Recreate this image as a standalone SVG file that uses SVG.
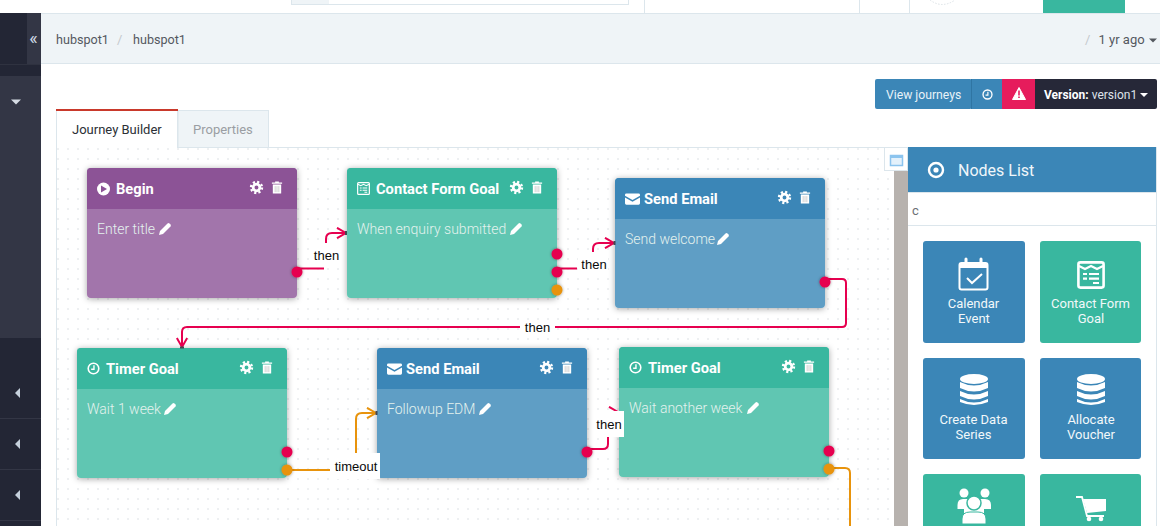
<svg xmlns="http://www.w3.org/2000/svg" width="1160" height="526" viewBox="0 0 1160 526">
<style>
text{font-family:Roboto,"Liberation Sans",sans-serif}
.hd{font-size:14.700px;font-weight:700;fill:#fff}
.sub{font-size:14px;font-weight:300;fill:#e4f2ee}
.lbl{font-size:13px;fill:#0a0a0a;text-anchor:middle;font-family:"Liberation Sans",Arial,sans-serif}
.tile{font-size:13px;fill:#f2f8fa;text-anchor:middle}
.crumb{font-size:12.600px;fill:#54585f}
.pk{fill:none;stroke:#e6004f;stroke-width:2}
.or{fill:none;stroke:#e8930c;stroke-width:2}
.tip{fill:#45464f}
.sh{filter:url(#shadow)}
.pd{fill:#e6004f;filter:url(#pshadow)}
.po{fill:#e8930c;filter:url(#pshadow)}
.ic{fill:#fff}
.bl{fill:#3b86b7}.gr{fill:#39b79f}.pu{fill:#8c5396}
.bl2{fill:#5f9ec5}.gr2{fill:#61c6b2}.pu2{fill:#a274ab}
.tri{fill:#c5d0dc}
</style>
<defs>
<pattern id="dots" width="10" height="10" patternUnits="userSpaceOnUse" x="7" y="8"><rect x="0" y="0" width="2" height="2" fill="#eef0f2"/></pattern>
<filter id="shadow" x="-10%" y="-10%" width="120%" height="125%"><feDropShadow dx="0" dy="1" stdDeviation="3" flood-color="#000" flood-opacity=".35"/></filter>
<filter id="pshadow" x="-50%" y="-50%" width="200%" height="200%"><feDropShadow dx="0" dy="0" stdDeviation="1.500" flood-color="#000" flood-opacity=".4"/></filter>
<marker id="ap" viewBox="0 0 11 12" refX="10" refY="6" markerWidth="11" markerHeight="12" markerUnits="userSpaceOnUse" orient="auto"><path d="M1 .8L10 6L1 11.200" fill="none" stroke="#e6004f" stroke-width="2"/></marker>
<marker id="ao" viewBox="0 0 11 12" refX="10" refY="6" markerWidth="11" markerHeight="12" markerUnits="userSpaceOnUse" orient="auto"><path d="M1 .8L10 6L1 11.200" fill="none" stroke="#e8930c" stroke-width="2"/></marker>
<symbol id="gear" viewBox="0 0 14 14" overflow="visible"><circle cx="7" cy="7" r="3.600" fill="none" stroke="#fff" stroke-width="3"/><circle cx="7" cy="7" r="5.900" fill="none" stroke="#fff" stroke-width="2.600" stroke-dasharray="2.300 2.330"/></symbol>
<symbol id="trash" viewBox="0 0 12 14" overflow="visible"><path d="M4 1.500V.5H8V1.500H11.500V3H.5V1.500ZM1.500 3.800H10.500V13.500H1.500Z" fill="#fff"/><path d="M4 5.500V12M6 5.500V12M8 5.500V12" stroke="#000" stroke-opacity=".2" stroke-width="1"/></symbol>
<symbol id="pen" viewBox="0 0 12 12" overflow="visible"><path d="M0 12L1 8L8.500 .5Q9.500 -.3 10.500 .5L11.500 1.500Q12.300 2.500 11.500 3.500L4 11Z" fill="#fff"/></symbol>
<symbol id="env" viewBox="0 0 16 12" overflow="visible"><path d="M0 1.500Q0 0 1.500 0H14.500Q16 0 16 1.500V2.500L8 7L0 2.500ZM0 4.300L8 8.800L16 4.300V10.500Q16 12 14.500 12H1.500Q0 12 0 10.500Z" fill="#fff"/></symbol>
<symbol id="clock" viewBox="0 0 14 14" overflow="visible"><circle cx="7" cy="7" r="5.700" fill="none" stroke="#fff" stroke-width="1.700"/><path d="M7.500 3.500V7.800H4.500" fill="none" stroke="#fff" stroke-width="1.500"/></symbol>
<symbol id="form" viewBox="0 0 14 14" overflow="visible"><rect x=".7" y=".7" width="12.600" height="12.600" rx="1" fill="none" stroke="#fff" stroke-width="1.300"/><path d="M1 2.500L4 4L7 2.500L10 4L13 2.500M3 6.500H5M6 6.500H11M3 8.800H5M6 8.800H11M8 11H11" fill="none" stroke="#fff" stroke-width="1.100"/></symbol>
<symbol id="db" viewBox="0 0 28 32" overflow="visible"><ellipse cx="14" cy="5" rx="14" ry="5" fill="#fff"/><path d="M0 8Q14 15 28 8V14Q14 21 0 14ZM0 17Q14 24 28 17V22Q14 29 0 22ZM0 25Q14 32 28 25V28Q14 34 0 28Z" fill="#fff"/></symbol>
</defs>

<rect width="1160" height="526" fill="#fff"/>

<g id="topbar">
<rect x="0" y="0" width="1160" height="13" fill="#fff"/>
<rect x="291.500" y="-2" width="337" height="6.500" fill="#fff" stroke="#dce6ec"/>
<rect x="292" y="-2" width="37" height="6" fill="#eff4f7"/>
<path d="M644.500 0V13M859.500 0V13M909.500 0V13" stroke="#dce6ec"/>
<path d="M930 0Q942 9 955 0" fill="none" stroke="#dde3e7" stroke-dasharray="1.500 1.500"/>
<rect x="1043" y="0" width="82" height="13" fill="#39b79f"/>
<rect x="0" y="13" width="1160" height="1" fill="#dce6ec"/>
</g>

<g id="sidebar">
<rect x="0" y="13" width="41" height="513" fill="#232635"/>
<rect x="27" y="13" width="14" height="51" fill="#333645"/>
<rect x="0" y="64" width="41" height="1" fill="#2f3240"/>
<rect x="0" y="76" width="41" height="262" fill="#333645"/>
<path d="M0 418.500H41M0 469.500H41M0 520.500H41" stroke="#333645"/>
<text x="33.500" y="44" font-size="18" fill="#cfd9e4" text-anchor="middle">«</text>
<path d="M11 99.500H21L16 104.500Z" fill="#d5dbe3"/>
<path d="M20 388V398L15 393Z" class="tri"/>
<path d="M20 439V449L15 444Z" class="tri"/>
<path d="M20 490V500L15 495Z" class="tri"/>
</g>

<g id="breadcrumb">
<rect x="41" y="14" width="1119" height="49" fill="#eff4f7"/>
<rect x="41" y="63" width="1119" height="1" fill="#dce6ec"/>
<text x="56" y="44" class="crumb">hubspot1</text>
<text x="117" y="44" font-size="13" fill="#c4c9cd">/</text>
<text x="133" y="44" class="crumb">hubspot1</text>
<text x="1085" y="44" font-size="13" fill="#c4c9cd">/</text>
<text x="1098.500" y="44" font-size="13" fill="#54585f">1 yr ago</text>
<path d="M1149 38.500H1157L1153 42.500Z" fill="#54585f"/>
</g>

<g id="toolbar">
<rect x="875" y="79" width="97" height="30" rx="2" fill="#3b86b7"/>
<rect x="972" y="79" width="30" height="30" fill="#3b86b7"/>
<rect x="971" y="79" width="1" height="30" fill="#2f75a3"/>
<rect x="1002" y="79" width="33" height="30" fill="#e61c5c"/>
<path d="M1035 79H1155Q1157 79 1157 81V107Q1157 109 1155 109H1035Z" fill="#262838"/>
<text x="886" y="99" font-size="12.200" fill="#e8f2f8">View journeys</text>
<use href="#clock" x="982" y="89" width="11" height="11"/>
<path d="M1019 87.500L1025.500 99.500H1012.500Z" fill="#fff" stroke="#fff" stroke-width="1" stroke-linejoin="round"/>
<path d="M1019 90.500V95.500M1019 96.500V98" stroke="#e61c5c" stroke-width="1.600"/>
<text x="1044" y="99" font-size="12" fill="#fff"><tspan font-weight="700">Version:</tspan><tspan fill="#dfe3ea"> version1</tspan></text>
<path d="M1140 93H1148L1144 97Z" fill="#fff"/>
</g>

<g id="tabs">
<rect x="56.500" y="147.500" width="850" height="385" fill="#fff" stroke="#dce6ec"/>
<rect x="57" y="148" width="838" height="378" fill="url(#dots)"/>
<rect x="178" y="110.500" width="90.500" height="37" fill="#eff4f7" stroke="#dce6ec"/>
<rect x="56.500" y="110" width="121" height="38" fill="#fff"/>
<path d="M56.500 110V148M177.500 110V148" stroke="#dce6ec"/>
<rect x="56" y="109" width="122" height="2" fill="#c9392b"/>
<text x="72" y="134" font-size="13" fill="#2b2f35">Journey Builder</text>
<text x="193" y="134" font-size="13" fill="#9a9ea3">Properties</text>
</g>

<g id="begin">
<rect class="sh pu2" x="87" y="168" width="210" height="130" rx="4"/>
<path class="pu" d="M87 209V172Q87 168 91 168H293Q297 168 297 172V209Z"/>
<circle cx="103.500" cy="189" r="6.500" fill="#fff"/><path d="M101 185.500L107 189L101 192.500Z" fill="#8c5396"/>
<text x="116" y="194" class="hd">Begin</text>
<use href="#gear" x="250" y="181" width="13" height="13"/>
<use href="#trash" x="271" y="181" width="12" height="13"/>
<text x="97" y="234" class="sub">Enter title</text>
<use href="#pen" x="159" y="223" width="12" height="12"/>
</g>

<g id="contact-form-goal">
<rect class="sh gr2" x="347" y="168" width="210" height="130" rx="4"/>
<path class="gr" d="M347 209V172Q347 168 351 168H553Q557 168 557 172V209Z"/>
<use href="#form" x="357" y="182" width="13" height="13"/>
<text x="376" y="194" class="hd">Contact Form Goal</text>
<use href="#gear" x="510" y="181" width="13" height="13"/>
<use href="#trash" x="531" y="181" width="12" height="13"/>
<text x="357" y="234" class="sub">When enquiry submitted</text>
<use href="#pen" x="510" y="223" width="12" height="12"/>
</g>

<g id="send-email-1">
<rect class="sh bl2" x="615" y="178" width="210" height="130" rx="4"/>
<path class="bl" d="M615 219V182Q615 178 619 178H821Q825 178 825 182V219Z"/>
<use href="#env" x="625" y="193" width="15" height="12"/>
<text x="644" y="204" class="hd">Send Email</text>
<use href="#gear" x="778" y="191" width="13" height="13"/>
<use href="#trash" x="799" y="191" width="12" height="13"/>
<text x="625" y="244" class="sub">Send welcome</text>
<use href="#pen" x="717" y="233" width="12" height="12"/>
</g>

<g id="timer-goal-1">
<rect class="sh gr2" x="77" y="348" width="210" height="130" rx="4"/>
<path class="gr" d="M77 389V352Q77 348 81 348H283Q287 348 287 352V389Z"/>
<use href="#clock" x="87" y="362" width="13" height="13"/>
<text x="106" y="374" class="hd">Timer Goal</text>
<use href="#gear" x="240" y="361" width="13" height="13"/>
<use href="#trash" x="261" y="361" width="12" height="13"/>
<text x="87" y="414" class="sub">Wait 1 week</text>
<use href="#pen" x="164" y="403" width="12" height="12"/>
</g>

<g id="send-email-2">
<rect class="sh bl2" x="377" y="348" width="210" height="130" rx="4"/>
<path class="bl" d="M377 389V352Q377 348 381 348H583Q587 348 587 352V389Z"/>
<use href="#env" x="387" y="363" width="15" height="12"/>
<text x="406" y="374" class="hd">Send Email</text>
<use href="#gear" x="540" y="361" width="13" height="13"/>
<use href="#trash" x="561" y="361" width="12" height="13"/>
<text x="387" y="414" class="sub">Followup EDM</text>
<use href="#pen" x="479" y="403" width="12" height="12"/>
</g>

<g id="timer-goal-2">
<rect class="sh gr2" x="619" y="347" width="210" height="130" rx="4"/>
<path class="gr" d="M619 388V351Q619 347 623 347H825Q829 347 829 351V388Z"/>
<use href="#clock" x="629" y="361" width="13" height="13"/>
<text x="648" y="373" class="hd">Timer Goal</text>
<use href="#gear" x="782" y="360" width="13" height="13"/>
<use href="#trash" x="803" y="360" width="12" height="13"/>
<text x="629" y="413" class="sub">Wait another week</text>
<use href="#pen" x="747" y="402" width="12" height="12"/>
</g>

<g id="connectors">
<path class="pk" d="M297 268.500H324M326 243V239Q326 233 332 233H346" marker-end="url(#ap)"/>
<path class="pk" d="M557 268.500H577M593 252V249Q593 243 599 243H614" marker-end="url(#ap)"/>
<path class="pk" d="M825 279H842Q846 279 846 283V323Q846 327 842 327H187Q182 327 182 332V347" marker-end="url(#ap)"/>
<path class="or" d="M287 470H351Q356 470 356 465V419Q356 413 362 413H376" marker-end="url(#ao)"/>
<path class="pk" d="M587 449H603Q608 449 608 444V418Q608 412 612 412H618" marker-end="url(#ap)"/>
<path class="or" d="M829 468H845Q850 468 850 473V526"/>
<rect x="345" y="231" width="2" height="4" class="tip"/>
<rect x="613.500" y="241" width="2" height="4" class="tip"/>
<rect x="180" y="346.500" width="4" height="2" class="tip"/>
<rect x="375.500" y="411" width="2" height="4" class="tip"/>
<rect x="313" y="246" width="27" height="20" fill="#fff"/>
<text x="326.500" y="260" class="lbl">then</text>
<rect x="578" y="252" width="30" height="23" fill="#fff"/>
<text x="594" y="269" class="lbl">then</text>
<rect x="520" y="320" width="35" height="14" fill="#fff"/>
<text x="537.500" y="332" class="lbl">then</text>
<rect x="330" y="453" width="50" height="26" fill="#fff"/>
<text x="356" y="471" class="lbl">timeout</text>
<rect x="595" y="411" width="29" height="26" fill="#fff"/>
<text x="609" y="429" class="lbl">then</text>
</g>

<g id="ports">
<circle class="pd" cx="297" cy="272" r="5.500"/>
<circle class="pd" cx="557" cy="254" r="5.500"/>
<circle class="pd" cx="557" cy="272" r="5.500"/>
<circle class="po" cx="557" cy="290" r="5.500"/>
<circle class="pd" cx="825" cy="282" r="5.500"/>
<circle class="pd" cx="287" cy="452" r="5.500"/>
<circle class="po" cx="287" cy="470" r="5.500"/>
<circle class="pd" cx="587" cy="452" r="5.500"/>
<circle class="pd" cx="829" cy="451" r="5.500"/>
<circle class="po" cx="829" cy="469" r="5.500"/>
</g>

<g id="nodes-list">
<rect x="884.500" y="147.500" width="23" height="23" fill="#fff" stroke="#dce6ec"/>
<rect x="890.500" y="155.500" width="12" height="10" fill="#e4f1fb" stroke="#8cc4ee" stroke-width="1.500"/>
<rect x="890" y="155" width="13" height="3" fill="#8cc4ee"/>
<rect x="894" y="171" width="14" height="355" fill="#b7b2ae"/>
<rect x="908" y="147" width="248" height="379" fill="#fff"/>
<rect x="1156" y="147" width="1" height="379" fill="#dce6ec"/>
<rect x="908" y="147" width="248" height="45" fill="#3b86b7"/>
<circle cx="936" cy="170" r="7" fill="none" stroke="#fff" stroke-width="2.400"/>
<circle cx="936" cy="170" r="2.600" fill="#fff"/>
<text x="958" y="176" font-size="16" fill="#f0f6fa">Nodes List</text>
<rect x="908" y="192" width="248" height="1" fill="#dce6ec"/>
<rect x="908" y="225" width="248" height="1" fill="#dce6ec"/>
<text x="912" y="215" font-size="13" fill="#6b6f74">c</text>

<g id="tile-calendar-event">
<rect class="bl" x="923" y="241" width="102" height="102" rx="3"/>
<rect x="959.500" y="263" width="28" height="26.500" rx="2" fill="none" stroke="#fff" stroke-width="2"/>
<rect x="959" y="263" width="29" height="5" fill="#fff"/>
<path d="M966 259V265M981 259V265" stroke="#fff" stroke-width="3" stroke-linecap="round"/>
<path d="M967 278L972 283L982 274" fill="none" stroke="#fff" stroke-width="2"/>
<text x="973.500" y="308" class="tile">Calendar</text>
<text x="974" y="323" class="tile">Event</text>
</g>
<g id="tile-contact-form-goal">
<rect class="gr" x="1040" y="241" width="101" height="102" rx="3"/>
<use href="#form" x="1077" y="261" width="28" height="28"/>
<text x="1090.500" y="308" class="tile">Contact Form</text>
<text x="1091" y="323" class="tile">Goal</text>
</g>
<g id="tile-create-data-series">
<rect class="bl" x="923" y="358" width="102" height="101" rx="3"/>
<use href="#db" x="960" y="374" width="28" height="32"/>
<text x="973.500" y="424" class="tile">Create Data</text>
<text x="973.500" y="439" class="tile">Series</text>
</g>
<g id="tile-allocate-voucher">
<rect class="bl" x="1040" y="358" width="101" height="101" rx="3"/>
<use href="#db" x="1077" y="374" width="28" height="32"/>
<text x="1091" y="424" class="tile">Allocate</text>
<text x="1091" y="439" class="tile">Voucher</text>
</g>
<g id="tile-people">
<path class="gr" d="M923 526V477Q923 474 926 474H1022Q1025 474 1025 477V526Z"/>
<circle cx="964" cy="493" r="4.500" class="ic"/><circle cx="985" cy="493" r="4.500" class="ic"/>
<path d="M957.500 505Q957.500 499 963 499H985Q991 499 991 505V509H984V524H964V509H957.500Z" class="ic"/>
<circle cx="974" cy="503" r="7" class="ic" stroke="#39b79f" stroke-width="1.500"/>
<path d="M962 524V519Q962 512 970 512H978Q986 512 986 519V524Z" class="ic" stroke="#39b79f" stroke-width="1"/>
</g>
<g id="tile-cart">
<path class="gr" d="M1040 526V477Q1040 474 1043 474H1138Q1141 474 1141 477V526Z"/>
<path d="M1076 497H1082L1087 516H1104" fill="none" stroke="#fff" stroke-width="1.800"/>
<path d="M1083 499H1106V511L1087 513Z" class="ic"/>
<circle cx="1089" cy="519" r="2.300" class="ic"/><circle cx="1101" cy="519" r="2.300" class="ic"/>
</g>
</g>
</svg>
